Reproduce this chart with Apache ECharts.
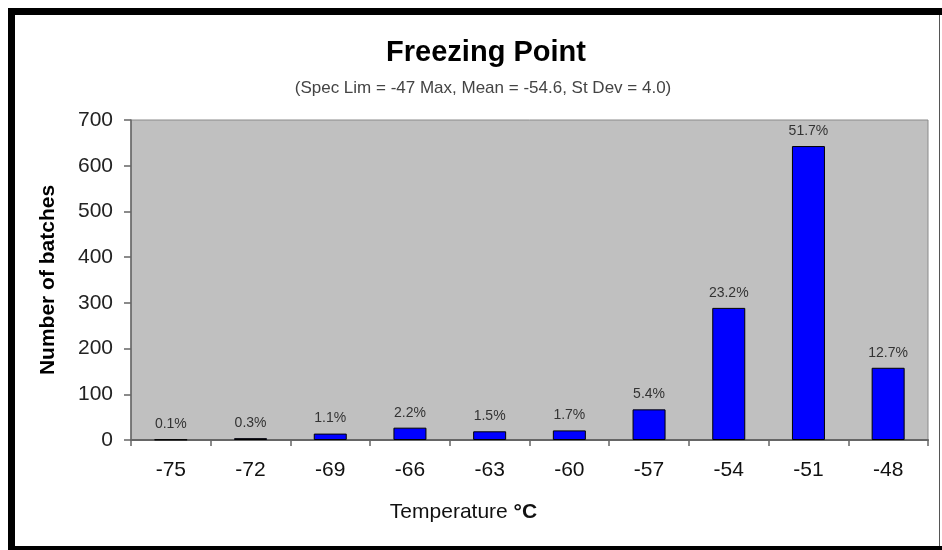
<!DOCTYPE html>
<html>
<head>
<meta charset="utf-8">
<script src="https://cdn.jsdelivr.net/npm/echarts@6/dist/echarts.min.js"></script>
<style>
html,body{margin:0;padding:0;background:#fff;}
#chart{width:942px;height:550px;}
</style>
</head>
<body>
<div id="chart"></div>
<script>
var categories = ['-75', '-72', '-69', '-66', '-63', '-60', '-57', '-54', '-51', '-48'];
var batchCounts = [1, 4, 14, 27, 19, 21, 67, 289, 643, 158];
var percentLabels = ['0.1%', '0.3%', '1.1%', '2.2%', '1.5%', '1.7%', '5.4%', '23.2%', '51.7%', '12.7%'];
var yTicks = { min: 0, max: 700, interval: 100 };
var titleText = 'Freezing Point';
var subtitleText = '(Spec Lim = -47 Max, Mean = -54.6, St Dev = 4.0)';

var chart = echarts.init(document.getElementById('chart'), null, { renderer: 'canvas' });
var FONT = '"Liberation Sans", Arial, sans-serif';

chart.setOption({
  backgroundColor: '#ffffff',
  animation: false,
  title: [
    { text: titleText, left: 481, top: 33, textAlign: 'center',
      textStyle: { fontFamily: FONT, fontSize: 29, fontWeight: 'bold', color: '#000' } },
    { text: subtitleText, left: 478, top: 75, textAlign: 'center',
      textStyle: { fontFamily: FONT, fontSize: 17, fontWeight: 'normal', color: '#444' } }
  ],
  grid: {
    left: 131, right: 14, top: 120, bottom: 110,
    show: true, backgroundColor: '#C0C0C0', borderColor: '#8a8a8a', borderWidth: 1
  },
  xAxis: {
    type: 'category',
    data: categories,
    boundaryGap: true,
    axisLine: { show: true, lineStyle: { color: '#666', width: 2 } },
    axisTick: { show: true, alignWithLabel: false, length: 6, lineStyle: { color: '#666', width: 1.5 } },
    axisLabel: { fontFamily: FONT, fontSize: 21, color: '#111', margin: 20 },
    name: '{n|Temperature }{b|°C}',
    nameLocation: 'middle',
    nameGap: 72,
    nameTextStyle: {
      verticalAlign: 'middle',
      padding: [0, 132, 0, 0],
      rich: {
        n: { fontFamily: FONT, fontSize: 21, color: '#111' },
        b: { fontFamily: FONT, fontSize: 21, fontWeight: 'bold', color: '#111' }
      }
    }
  },
  yAxis: {
    type: 'value',
    min: yTicks.min, max: yTicks.max, interval: yTicks.interval,
    axisLine: { show: true, lineStyle: { color: '#666', width: 1.5 } },
    axisTick: { show: true, length: 7, lineStyle: { color: '#666', width: 1.5 } },
    splitLine: { show: false },
    axisLabel: { fontFamily: FONT, fontSize: 21, color: '#222', margin: 18 },
    name: 'Number of batches',
    nameLocation: 'middle',
    nameGap: 83,
    nameTextStyle: { fontFamily: FONT, fontSize: 21, fontWeight: 'bold', color: '#000', verticalAlign: 'middle' }
  },
  series: [{
    type: 'bar',
    data: batchCounts,
    barWidth: 33,
    itemStyle: { color: '#0000FF', borderColor: '#000', borderWidth: 1 },
    label: {
      show: true, position: 'top', distance: 8,
      fontFamily: FONT, fontSize: 14, color: '#333',
      formatter: function (p) { return percentLabels[p.dataIndex]; }
    }
  }],
  graphic: [
    { type: 'rect', shape: { x: 8, y: 8, width: 934, height: 7 }, style: { fill: '#000' } },
    { type: 'rect', shape: { x: 8, y: 8, width: 7, height: 542 }, style: { fill: '#000' } },
    { type: 'rect', shape: { x: 8, y: 546, width: 934, height: 4 }, style: { fill: '#000' } },
    { type: 'rect', shape: { x: 939, y: 15, width: 1, height: 531 }, style: { fill: '#555' } }
  ]
});
</script>
</body>
</html>
